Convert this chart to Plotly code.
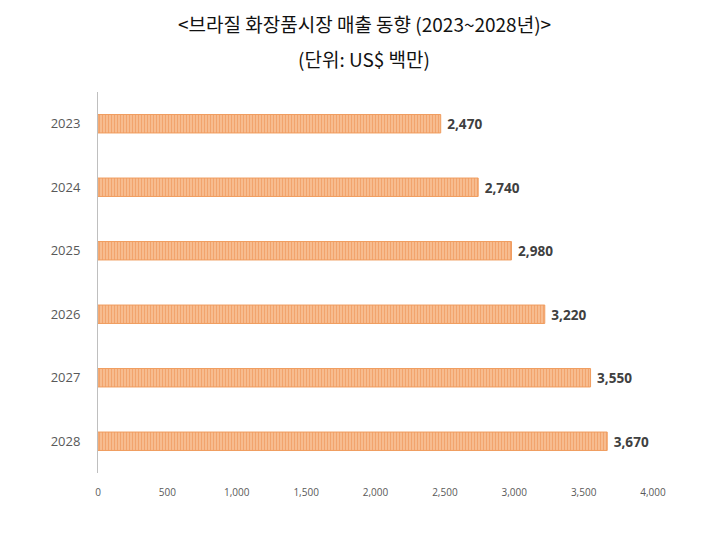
import plotly.graph_objects as go

years = ["2023", "2024", "2025", "2026", "2027", "2028"]
values = [2470, 2740, 2980, 3220, 3550, 3670]
labels = ["2,470", "2,740", "2,980", "3,220", "3,550", "3,670"]
x_ticks = [0, 500, 1000, 1500, 2000, 2500, 3000, 3500, 4000]
x_tick_labels = ["0", "500", "1,000", "1,500", "2,000", "2,500", "3,000", "3,500", "4,000"]

W, H = 727, 533
OFF = 8  # page body margin
L, R, T, B = 98 - OFF, 74 + OFF, 92 - OFF, 63 + OFF - 3
PW, PH = W - L - R, H - T - B

fig = go.Figure()
fig.add_trace(go.Bar(
    y=years, x=values, orientation="h",
    width=0.29,
    marker=dict(
        color="#F5B27F",
        line=dict(color="#F09C5E", width=1),
        pattern=dict(shape="|", fgcolor="#EC8640", bgcolor="#F8C39A", size=3, solidity=0.5),
    ),
    text=labels, texttemplate=" %{text}", textposition="outside", cliponaxis=False,
    textfont=dict(family="Open Sans, Noto Sans, sans-serif", size=14, color="#404040", weight="bold"),
    hoverinfo="skip",
))

cx = (364 - OFF - L) / PW
fig.update_layout(
    width=W, height=H,
    margin=dict(l=L, r=R, t=T, b=B),
    paper_bgcolor="white", plot_bgcolor="white",
    showlegend=False,
    xaxis=dict(range=[0, 4000], tickvals=x_ticks, ticktext=x_tick_labels,
               showgrid=False, zeroline=False, showline=False,
               tickfont=dict(family="Open Sans, sans-serif", size=10, color="#595959"),
               ticks="", ticklabelstandoff=12),
    yaxis=dict(categoryorder="array", categoryarray=years, autorange="reversed",
               showgrid=False, zeroline=False, showline=True, linecolor="#BFBFBF", linewidth=1,
               tickfont=dict(family="Open Sans, sans-serif", size=13, color="#595959"),
               ticks="", ticklabelstandoff=14),
    annotations=[
        dict(text="&lt;브라질 화장품시장 매출 동향 (2023~2028년)&gt;", xref="paper", yref="paper",
             x=cx, y=1 + (T - 1) / PH, showarrow=False, borderpad=0,
             xanchor="center", yanchor="top",
             font=dict(family="Noto Sans CJK KR, sans-serif", size=19, color="#111111")),
        dict(text="(단위: US$ 백만)", xref="paper", yref="paper",
             x=cx, y=1 + (92 - 58) / PH, showarrow=False, borderpad=0,
             xanchor="center", yanchor="middle",
             font=dict(family="Noto Sans CJK KR, sans-serif", size=19, color="#111111")),
    ],
)

fig.write_html("out.html")
